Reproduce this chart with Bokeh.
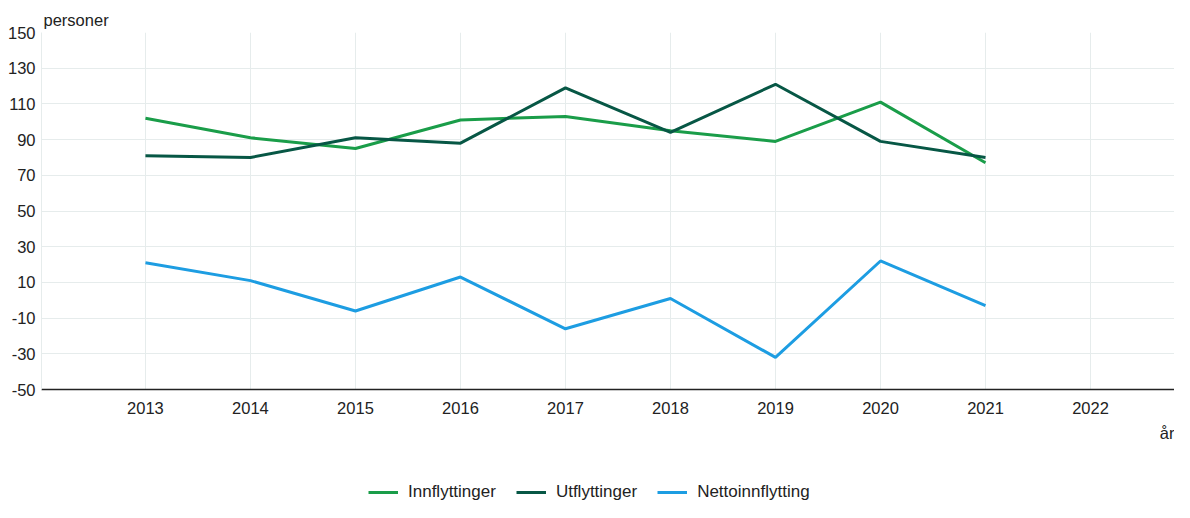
from bokeh.plotting import figure
from bokeh.models import FixedTicker, Legend, LegendItem, Title, Range1d
from bokeh.layouts import column
from bokeh.embed import file_html
from bokeh.resources import INLINE

years = [2013, 2014, 2015, 2016, 2017, 2018, 2019, 2020, 2021]
innflyttinger = [102, 91, 85, 101, 103, 95, 89, 111, 77]
utflyttinger = [81, 80, 91, 88, 119, 94, 121, 89, 80]
nettoinnflytting = [21, 11, -6, 13, -16, 1, -32, 22, -3]
x_ticks = [2013, 2014, 2015, 2016, 2017, 2018, 2019, 2020, 2021, 2022]
y_ticks = [-50, -30, -10, 10, 30, 50, 70, 90, 110, 130, 150]
series_names = ["Innflyttinger", "Utflyttinger", "Nettoinnflytting"]
series_values = [innflyttinger, utflyttinger, nettoinnflytting]
colors = ["#1a9d49", "#075745", "#1d9de2"]

FONT = "Liberation Sans"
FS = "16.5px"
TXT = "#222222"
GRID = "#e6ecec"

p = figure(width=1174, height=447, output_backend="svg", toolbar_location=None,
           x_range=Range1d(2012.01, 2022.80), y_range=Range1d(-50, 150),
           min_border_left=41, min_border_right=0, min_border_top=32, min_border_bottom=20)
p.outline_line_color = None

p.title.text = "personer"
p.title.align = "left"
p.title.offset = 2
p.title.text_font = FONT
p.title.text_font_size = FS
p.title.text_font_style = "normal"
p.title.text_color = TXT
p.title.standoff = 8

p.xaxis.ticker = FixedTicker(ticks=x_ticks)
p.yaxis.ticker = FixedTicker(ticks=y_ticks)
p.yaxis.major_label_overrides = {t: str(t) for t in y_ticks}
for ax in (p.xaxis, p.yaxis):
    ax.major_tick_line_color = None
    ax.minor_tick_line_color = None
    ax.major_label_text_font = FONT
    ax.major_label_text_font_size = FS
    ax.major_label_text_color = TXT
p.xaxis.axis_line_color = "#222222"
p.xaxis.axis_line_width = 1.5
p.xaxis.major_label_standoff = 6
p.yaxis.axis_line_color = GRID
p.yaxis.major_label_standoff = 0

p.xgrid.ticker = FixedTicker(ticks=x_ticks)
p.ygrid.ticker = FixedTicker(ticks=y_ticks)
p.xgrid.grid_line_color = GRID
p.ygrid.grid_line_color = GRID

for vals, c in zip(series_values, colors):
    p.line(years, vals, line_color=c, line_width=3)

p.add_layout(Title(text="år", align="right", text_font=FONT, text_font_size=FS,
                   text_font_style="normal", text_color=TXT, standoff=11), "below")

# legend strip (its lines lie outside its visible range; only the legend shows)
pl = figure(width=1174, height=55, output_backend="svg", toolbar_location=None,
            x_axis_type=None, y_axis_type=None, min_border=0,
            x_range=Range1d(0, 1), y_range=Range1d(0, 1))
pl.outline_line_color = None
pl.xgrid.visible = False
pl.ygrid.visible = False
items = []
for name, vals, c in zip(series_names, series_values, colors):
    r = pl.line(years, vals, line_color=c, line_width=3)
    items.append(LegendItem(label=name, renderers=[r]))
legend = Legend(items=items, orientation="horizontal", location=(327, 0),
                label_text_font=FONT, label_text_font_size="17px", label_text_color=TXT,
                glyph_width=30, label_standoff=10, spacing=20,
                border_line_color=None, background_fill_alpha=0, margin=0, padding=4)
pl.add_layout(legend, "center")

open("out.html", "w").write(file_html(column(p, pl, spacing=0), INLINE))
